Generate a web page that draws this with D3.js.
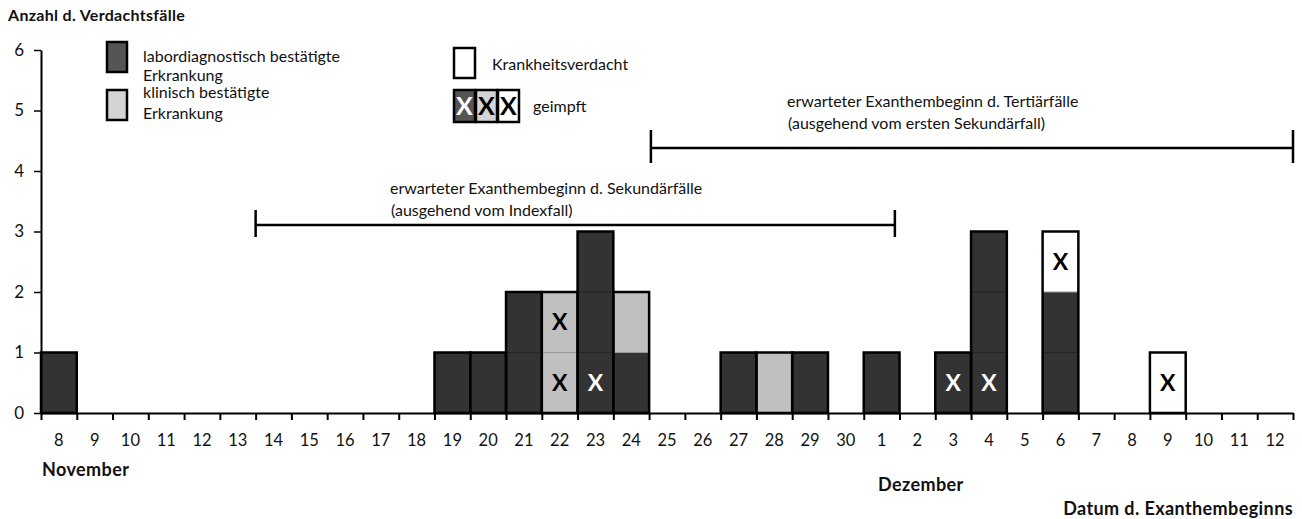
<!DOCTYPE html>
<html>
<head>
<meta charset="utf-8">
<script src="https://cdn.jsdelivr.net/npm/d3@7"></script>
<style>
  body { margin: 0; background: #fff; }
  text { font-family: Lato, "Open Sans", sans-serif; fill: #111; }
</style>
</head>
<body>
<div id="chart"></div>
<script>
// day labels, 8. November .. 12. Dezember
var dayLabels = ["8","9","10","11","12","13","14","15","16","17","18","19","20","21","22","23","24","25","26","27","28","29","30",
                 "1","2","3","4","5","6","7","8","9","10","11","12"];
// cases per day (stacked bottom-up: lab, clinical, suspected)
var labCases       = [1,0,0,0,0,0,0,0,0,0,0,1,1,2,0,3,1,0,0,1,0,1,0,1,0,1,3,0,2,0,0,0,0,0,0];
var clinicalCases  = [0,0,0,0,0,0,0,0,0,0,0,0,0,0,2,0,1,0,0,0,1,0,0,0,0,0,0,0,0,0,0,0,0,0,0];
var suspectedCases = [0,0,0,0,0,0,0,0,0,0,0,0,0,0,0,0,0,0,0,0,0,0,0,0,0,0,0,0,1,0,0,1,0,0,0];
// vaccinated cases: day index + stack level
var vaccinatedDay   = [14,14,15,25,26,28,31];
var vaccinatedLevel = [0,1,0,0,0,2,0];
var yTicks = [0,1,2,3,4,5,6];
// expected onset windows, in day units from 8. Nov
var secondaryRange = [6, 23.87];
var tertiaryRange = [17.05, 35];

var width = 1302, height = 519;
var colors = { lab: "#333333", clinical: "#c0c0c0", suspected: "#ffffff" };

var svg = d3.select("#chart").append("svg")
    .attr("width", width).attr("height", height);

var x = d3.scaleBand().domain(d3.range(dayLabels.length)).range([41, 1293]).padding(0);
var xPos = d3.scaleLinear().domain([0, dayLabels.length]).range([41, 1293]);
var y = d3.scaleLinear().domain([0, 6]).range([413, 50]);

// build unit cells
var cells = [];
dayLabels.forEach(function(d, i) {
    var level = 0;
    [["lab", labCases[i]], ["clinical", clinicalCases[i]], ["suspected", suspectedCases[i]]].forEach(function(t) {
        for (var k = 0; k < t[1]; k++) {
            cells.push({ day: i, level: level, type: t[0] });
            level++;
        }
    });
});
var totals = dayLabels.map(function(d, i) { return labCases[i] + clinicalCases[i] + suspectedCases[i]; });

// cells
svg.append("g").selectAll("rect")
    .data(cells).enter().append("rect")
    .attr("x", function(d) { return x(d.day); })
    .attr("y", function(d) { return y(d.level + 1); })
    .attr("width", x.bandwidth())
    .attr("height", y(0) - y(1))
    .attr("fill", function(d) { return colors[d.type]; })
    .attr("stroke", function(d) { return d.type == "lab" ? "#262626" : "#999"; })
    .attr("stroke-width", 1);

// bar outlines
svg.append("g").selectAll("rect")
    .data(d3.range(dayLabels.length).filter(function(i) { return totals[i] > 0; }))
    .enter().append("rect")
    .attr("x", function(i) { return x(i); })
    .attr("y", function(i) { return y(totals[i]); })
    .attr("width", x.bandwidth())
    .attr("height", function(i) { return y(0) - y(totals[i]); })
    .attr("fill", "none")
    .attr("stroke", "#000")
    .attr("stroke-width", 2.5);

// vaccination marks
svg.append("g").selectAll("text")
    .data(vaccinatedDay.map(function(d, i) {
        var c = cells.filter(function(c) { return c.day == d && c.level == vaccinatedLevel[i]; })[0];
        return c;
    }))
    .enter().append("text")
    .attr("x", function(d) { return x(d.day) + x.bandwidth() / 2; })
    .attr("y", function(d) { return y(d.level + 0.5) + 8; })
    .attr("text-anchor", "middle")
    .style("font-size", "23px")
    .style("font-weight", "bold")
    .style("fill", function(d) { return d.type == "lab" ? "#fff" : "#000"; })
    .text("X");

// y axis
var yAxis = svg.append("g")
    .attr("transform", "translate(41,0)")
    .call(d3.axisLeft(y).tickValues(yTicks).tickFormat(d3.format("d")).tickSize(7).tickPadding(10).tickSizeOuter(0));
yAxis.select(".domain").attr("stroke-width", 2);
yAxis.selectAll(".tick line").attr("stroke-width", 1.5);
yAxis.selectAll("text").style("font-size", "17px").style("font-family", "Lato, sans-serif").attr("fill", "#111");

// x axis: boundary ticks
var xAxis = svg.append("g")
    .attr("transform", "translate(0,413)")
    .call(d3.axisBottom(xPos).tickValues(d3.range(dayLabels.length + 1)).tickSize(7).tickFormat("").tickSizeOuter(0));
xAxis.select(".domain").attr("stroke-width", 2);
xAxis.selectAll(".tick line").attr("stroke-width", 2);

// x labels at band centres
var xLab = svg.append("g")
    .attr("transform", "translate(0,413)")
    .call(d3.axisBottom(x).tickSize(0).tickPadding(21).tickFormat(function(i) { return dayLabels[i]; }));
xLab.select(".domain").remove();
xLab.selectAll("text").style("font-size", "16.5px").style("font-family", "Lato, sans-serif").attr("fill", "#111");

// range markers
function rangeMarker(range, ly, cap, lines, tx, ty) {
    var g = svg.append("g");
    g.append("line")
        .attr("x1", xPos(range[0])).attr("x2", xPos(range[1]))
        .attr("y1", ly).attr("y2", ly)
        .attr("stroke", "#000").attr("stroke-width", 2.5);
    range.forEach(function(r) {
        g.append("line")
            .attr("x1", xPos(r)).attr("x2", xPos(r))
            .attr("y1", ly - cap[0]).attr("y2", ly + cap[1])
            .attr("stroke", "#000").attr("stroke-width", 2.5);
    });
    lines.forEach(function(l, i) {
        g.append("text")
            .attr("x", tx + (i ? 1 : 0)).attr("y", ty + i * 22)
            .style("font-size", "16px")
            .text(l);
    });
}
rangeMarker(secondaryRange, 225, [15, 12],
    ["erwarteter Exanthembeginn d. Sekundärfälle", "(ausgehend vom Indexfall)"], 390, 194);
rangeMarker(tertiaryRange, 148, [18, 15],
    ["erwarteter Exanthembeginn d. Tertiärfälle", "(ausgehend vom ersten Sekundärfall)"], 787, 107);

// legend
var legend = svg.append("g");
legend.append("rect").attr("x", 107).attr("y", 42).attr("width", 20).attr("height", 30)
    .attr("fill", "#555").attr("stroke", "#000").attr("stroke-width", 2.5);
legend.append("rect").attr("x", 107).attr("y", 90).attr("width", 20).attr("height", 30)
    .attr("fill", "#d4d4d4").attr("stroke", "#000").attr("stroke-width", 2.5);
legend.append("rect").attr("x", 454).attr("y", 48).attr("width", 21).attr("height", 30)
    .attr("fill", "#fff").attr("stroke", "#000").attr("stroke-width", 2.5);
[["#555", "#fff"], ["#d4d4d4", "#000"], ["#fff", "#000"]].forEach(function(c, i) {
    var bx = 454 + i * 22;
    legend.append("rect").attr("x", bx).attr("y", 90).attr("width", 21).attr("height", 32)
        .attr("fill", c[0]).attr("stroke", "#000").attr("stroke-width", 2.5);
    legend.append("text").attr("x", bx + 10.5).attr("y", 115).attr("text-anchor", "middle")
        .style("font-size", "25px").style("font-weight", "bold").style("fill", c[1]).text("X");
});
[["labordiagnostisch bestätigte", 143, 62], ["Erkrankung", 143, 81], ["klinisch bestätigte", 143, 98],
 ["Erkrankung", 143, 119], ["Krankheitsverdacht", 492, 70], ["geimpft", 533, 112]].forEach(function(t) {
    legend.append("text").attr("x", t[1]).attr("y", t[2]).style("font-size", "16px").text(t[0]);
});

// titles
svg.append("text").attr("x", 8).attr("y", 21).style("font-size", "16px").style("font-weight", "bold")
    .style("letter-spacing", "0.3px")
    .text("Anzahl d. Verdachtsfälle");
svg.append("text").attr("x", 42).attr("y", 476).style("font-size", "18px").style("font-weight", "bold")
    .style("letter-spacing", "0.4px")
    .text("November");
svg.append("text").attr("x", 878).attr("y", 491).style("font-size", "18px").style("font-weight", "bold")
    .style("letter-spacing", "0.4px")
    .text("Dezember");
svg.append("text").attr("x", 1293).attr("y", 515).attr("text-anchor", "end")
    .style("font-size", "18px").style("font-weight", "bold").style("letter-spacing", "0.4px")
    .text("Datum d. Exanthembeginns");
</script>
</body>
</html>
